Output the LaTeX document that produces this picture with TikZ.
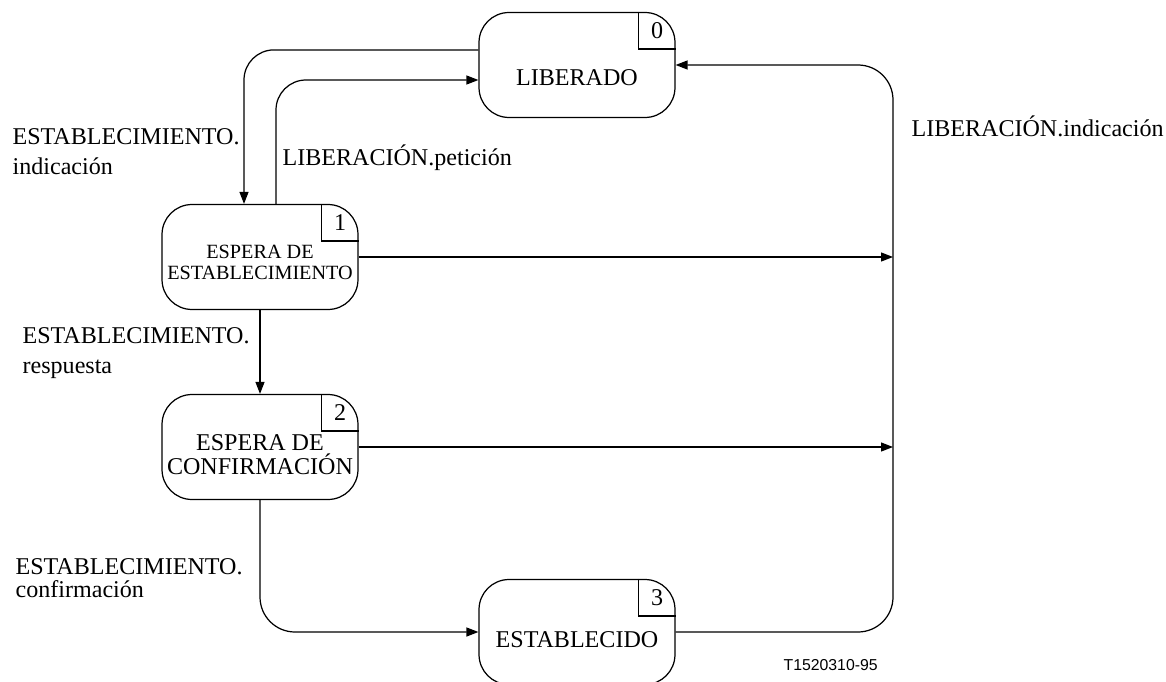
\documentclass[tikz,border=0pt]{standalone}
\usepackage{fontspec}
\setmainfont{Liberation Serif}
\newfontfamily\figfont{Liberation Sans}
\usetikzlibrary{calc,arrows.meta}

\begin{document}
\begin{tikzpicture}[x=0.02cm, y=-0.02cm, line width=0.7pt,
	state/.style={draw, rounded corners=0.6cm, minimum width=3.92cm, minimum height=2.1cm, inner sep=0pt},
	txt/.style={font=\fontsize{13.7}{13.7}\selectfont, align=center, inner sep=0pt},
	lbl/.style={font=\fontsize{13.7}{17}\selectfont, align=left, inner sep=0pt},
	arr/.style={-{Triangle[length=0.24cm, width=0.18cm]}}]
	\useasboundingbox (0,0) rectangle (1166,682);

	\node[state, label={[txt, yshift=-7.4pt]center:LIBERADO}] (s0) at (577,65) {};
	\node[state, label={[txt, font=\fontsize{11.5}{12}\selectfont, yshift=-3pt]center:ESPERA DE\\ESTABLECIMIENTO}] (s1) at (260,257) {};
	\node[state, label={[txt, yshift=-4.5pt]center:ESPERA DE\\CONFIRMACIÓN}] (s2) at (260,447) {};
	\node[state, label={[txt, yshift=-4.3pt]center:ESTABLECIDO}] (s3) at (577,632) {};

	\foreach \s/\n in {s0/0, s1/1, s2/2, s3/3} {
		\draw ($(\s.north east)+(-37,0)$) |- ($(\s.north east)+(0,37)$);
		\node[txt] (n\n) at ($(\s.north east)+(-18.5,18.5)$) {\n};
	}

	\coordinate (bus) at (893,350);
	\draw[arr, rounded corners=0.6cm] ($(s0.north west)+(0,38)$) -| ($(s1.north)+(-16,0)$);
	\draw[arr, rounded corners=0.6cm] ($(s1.north)+(16,0)$) |- ($(s0.west)+(0,15)$);
	\draw[arr] (s1.east) -- (s1.east -| bus);
	\draw[arr] (s2.east) -- (s2.east -| bus);
	\draw[arr] (s1.south) -- (s2.north);
	\draw[arr, rounded corners=0.7cm] (s2.south) |- (s3.west);
	\draw[arr, rounded corners=0.7cm] (s3.east) -| (bus) |- (s0.east);

	\node[lbl, anchor=north west] (lind) at (12,128) {ESTABLECIMIENTO.\\indicación};
	\node[lbl, anchor=base west] (lpet) at (282,166) {LIBERACIÓN.petición};
	\node[lbl, anchor=north west] (lresp) at (22,327) {ESTABLECIMIENTO.\\respuesta};
	\node[lbl, anchor=north west, font=\fontsize{13.7}{13}\selectfont] (lconf) at (15,558) {ESTABLECIMIENTO.\\confirmación};
	\node[lbl, anchor=base west] (llib) at (911,137) {LIBERACIÓN.indicación};
	\node[anchor=base west, inner sep=0pt, font=\figfont\fontsize{9}{9}\selectfont] (fig) at (783,670) {T1520310-95};
\end{tikzpicture}
\end{document}
